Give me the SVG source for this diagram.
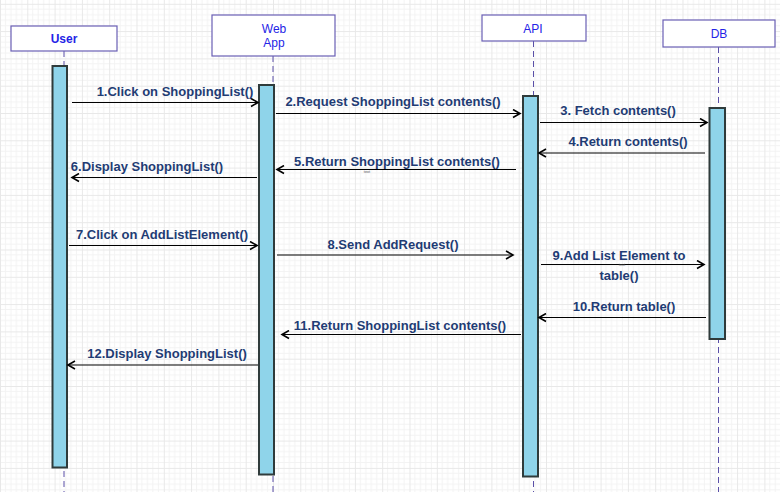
<svg xmlns="http://www.w3.org/2000/svg" width="780" height="492" viewBox="0 0 780 492">
<style>
.hdr{fill:#ffffff;stroke:#6a5fb5;stroke-width:1.2}
.htxt{font-family:"Liberation Sans",Arial,sans-serif;font-size:12px;fill:#2424e6;text-anchor:middle}
.life{stroke:#5a4fa8;stroke-width:1;stroke-dasharray:6,4;fill:none}
.bar{fill:#8fd4ea;stroke:#2f3b3b;stroke-width:2}
.msg{stroke:#000;stroke-width:1.2;fill:none;marker-end:url(#arr)}
.lbl{font-family:"Liberation Sans",Arial,sans-serif;font-size:13px;font-weight:bold;fill:#1f3c74;text-anchor:middle}
.tiny{font-family:"Liberation Sans",Arial,sans-serif;font-size:4px;fill:#555;text-anchor:middle}
</style>
<defs>
<pattern id="grid" x="0" y="3.8" width="27.3" height="27.3" patternUnits="userSpaceOnUse">
<path d="M5.46,0V27.3M10.92,0V27.3M16.38,0V27.3M21.84,0V27.3M0,5.46H27.3M0,10.92H27.3M0,16.38H27.3M0,21.84H27.3" stroke="#f3f3f3" stroke-width="1" fill="none"/>
<path d="M0.5,0V27.3M0,0.5H27.3" stroke="#e8e8e8" stroke-width="1" fill="none"/>
</pattern>
<marker id="arr" markerWidth="10" markerHeight="10" refX="8" refY="5" orient="auto" markerUnits="userSpaceOnUse">
<path d="M1,1 L8,5 L1,9" stroke="#000" stroke-width="1.6" fill="none"/>
</marker>
</defs>
<rect width="780" height="492" fill="#ffffff"/>
<rect width="780" height="492" fill="url(#grid)"/>

<g id="lifelines">
<line class="life" x1="64" y1="51" x2="64" y2="492"/>
<line class="life" x1="273" y1="56" x2="273" y2="492"/>
<line class="life" x1="533.5" y1="41" x2="533.5" y2="492"/>
<line class="life" x1="718.5" y1="47" x2="718.5" y2="492"/>
</g>

<g id="user">
<rect class="hdr" x="11" y="26" width="106" height="25"/>
<text class="htxt" x="64" y="43" font-weight="bold" font-size="11">User</text>
<rect class="bar" x="52.5" y="66" width="14.5" height="401.5"/>
</g>

<g id="webapp">
<rect class="hdr" x="212" y="15" width="123" height="41"/>
<text class="htxt" x="274" y="33" font-size="13">Web</text>
<text class="htxt" x="274" y="47" font-size="13">App</text>
<rect class="bar" x="259" y="85" width="15" height="389.5"/>
</g>

<g id="api">
<rect class="hdr" x="482" y="15" width="104" height="26"/>
<text class="htxt" x="533" y="33">API</text>
<rect class="bar" x="523" y="96" width="15" height="380.5"/>
</g>

<g id="db">
<rect class="hdr" x="663" y="20" width="112" height="27"/>
<text class="htxt" x="719" y="38" font-size="11">DB</text>
<rect class="bar" x="709.5" y="108" width="15.5" height="231"/>
</g>

<g id="connectors">
<line class="msg" x1="72" y1="102.5" x2="258" y2="102.5"/>
<line class="msg" x1="276" y1="113.5" x2="520" y2="113.5"/>
<line class="msg" x1="540" y1="122.5" x2="707" y2="122.5"/>
<line class="msg" x1="705" y1="153" x2="539" y2="153"/>
<line class="msg" x1="516" y1="169.5" x2="277" y2="169.5"/>
<line class="msg" x1="257" y1="177.5" x2="72" y2="177.5"/>
<line class="msg" x1="69" y1="245.5" x2="257" y2="245.5"/>
<line class="msg" x1="277" y1="255" x2="513" y2="255"/>
<line class="msg" x1="541" y1="264.5" x2="704" y2="264.5"/>
<line class="msg" x1="706" y1="317.5" x2="539" y2="317.5"/>
<line class="msg" x1="521" y1="334.5" x2="282" y2="334.5"/>
<line class="msg" x1="258" y1="365" x2="68" y2="365"/>
</g>

<g id="labels">
<text class="lbl" x="175" y="96">1.Click on ShoppingList()</text>
<text class="lbl" x="393" y="106">2.Request ShoppingList contents()</text>
<text class="lbl" x="618" y="115">3. Fetch contents()</text>
<text class="lbl" x="628" y="146">4.Return contents()</text>
<text class="lbl" x="397" y="166">5.Return ShoppingList contents()</text>
<text class="tiny" x="367" y="173">text</text>
<text class="lbl" x="147" y="171">6.Display ShoppingList()</text>
<text class="lbl" x="162" y="239">7.Click on AddListElement()</text>
<text class="lbl" x="393" y="249">8.Send AddRequest()</text>
<text class="lbl" x="619" y="260">9.Add List Element to</text>
<text class="tiny" x="622" y="266.3" font-size="3.5">text</text>
<text class="lbl" x="619" y="279.5">table()</text>
<text class="lbl" x="624" y="311">10.Return table()</text>
<text class="lbl" x="400" y="330">11.Return ShoppingList contents()</text>
<text class="lbl" x="167" y="358">12.Display ShoppingList()</text>
</g>
</svg>
